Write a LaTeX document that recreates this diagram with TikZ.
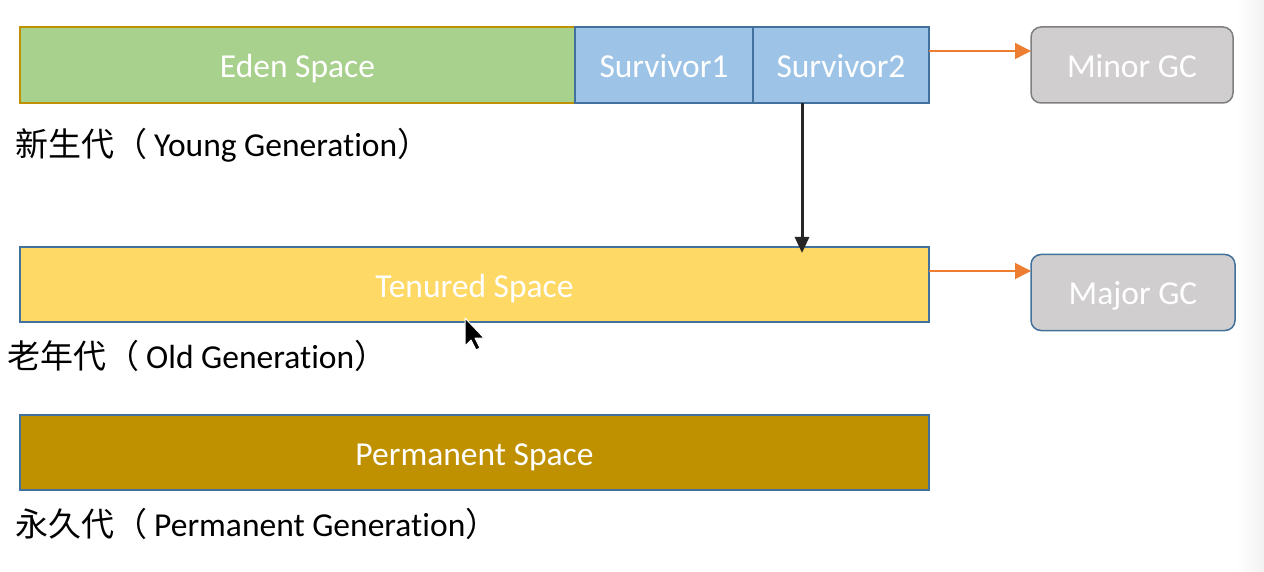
\documentclass[tikz,border=0pt]{standalone}
\usepackage{fontspec}
\setmainfont{Carlito}[Ligatures={NoCommon,TeX}]
\newfontfamily\cjk{Noto Sans CJK SC}
\usetikzlibrary{arrows.meta}
\definecolor{edenG}{HTML}{A9D18E}
\definecolor{goldB}{HTML}{BF9000}
\definecolor{survB}{HTML}{9DC3E6}
\definecolor{blueB}{HTML}{41719C}
\definecolor{tenY}{HTML}{FFD966}
\definecolor{gcF}{HTML}{D0CECE}
\definecolor{gcB}{HTML}{7F7F7F}
\definecolor{orangeA}{HTML}{ED7D31}
\definecolor{darkA}{HTML}{262626}
\newcommand\zhtext[1]{{\cjk\fontsize{33}{38}\selectfont #1}}
\begin{document}
\begin{tikzpicture}[x=1pt,y=-1pt,
 space/.style={draw=blueB, line width=1.5pt, inner sep=0pt, outer sep=0pt, text=white,
   text height=31pt, text depth=6pt, font=\fontsize{33.5}{38}\selectfont},
 gc/.style={space, rounded corners=10pt, fill=gcF},
 gen/.style={anchor=base west, inner sep=0pt, text=black, font=\fontsize{33.5}{38}\selectfont},
 orangearrow/.style={draw=orangeA, line width=1.5pt, -{Triangle[length=16pt,width=16pt]}},
 blackarrow/.style={draw=darkA, line width=3pt, -{Triangle[length=16pt,width=14pt]}}
]
\useasboundingbox (0,0) rectangle (1264,572);
\shade[left color=white, right color=black!5] (1236,0) rectangle (1264,572);

\node[space, draw=goldB, fill=edenG, minimum width=555pt, minimum height=76pt] (eden) at (297.5,65) {Eden Space};
\node[space, fill=survB, minimum width=178pt, minimum height=76pt] (surv1) at (664,65) {Survivor1};
\node[space, fill=survB, minimum width=176pt, minimum height=76pt] (surv2) at (841,65) {Survivor2};
\node[gc, draw=gcB, minimum width=202pt, minimum height=76pt] (minor) at (1132,65) {Minor GC};

\node[space, fill=tenY, minimum width=909pt, minimum height=75pt] (tenured) at (474.5,284.5) {Tenured Space};
\node[gc, minimum width=204pt, minimum height=76pt] (major) at (1133,292.5) {Major GC};

\node[space, fill=goldB, minimum width=909pt, minimum height=75pt] (perm) at (474.5,452.5) {Permanent Space};

\node[gen] (young) at (15,157) {\zhtext{新生代（}\hspace{7pt}Young Generation\zhtext{）}};
\node[gen] (old) at (7,368) {\zhtext{老年代（}\hspace{7pt}Old Generation\zhtext{）}};
\node[gen] (permlbl) at (15,536) {\zhtext{永久代（}\hspace{7pt}Permanent Generation\zhtext{）}};

\draw[orangearrow] ([yshift=14pt]surv2.east) -- ([yshift=14pt]minor.west);
\draw[orangearrow] ([yshift=13.5pt]tenured.east) -- ([yshift=13.5pt]tenured.east -| major.west);

\path (surv2.south) ++(-39,0) coordinate (dtop);
\path (dtop |- tenured.north) ++(0,6) coordinate (dbot);
\draw[blackarrow] (dtop) -- (dbot);

% mouse cursor
\filldraw[fill=black, draw=white, line width=1pt, line join=round]
  (465,318) -- ++(0,28) -- ++(6,-6) -- ++(5,10) -- ++(4,-2) -- ++(-5,-10) -- ++(9,0) -- cycle;
\end{tikzpicture}
\end{document}
